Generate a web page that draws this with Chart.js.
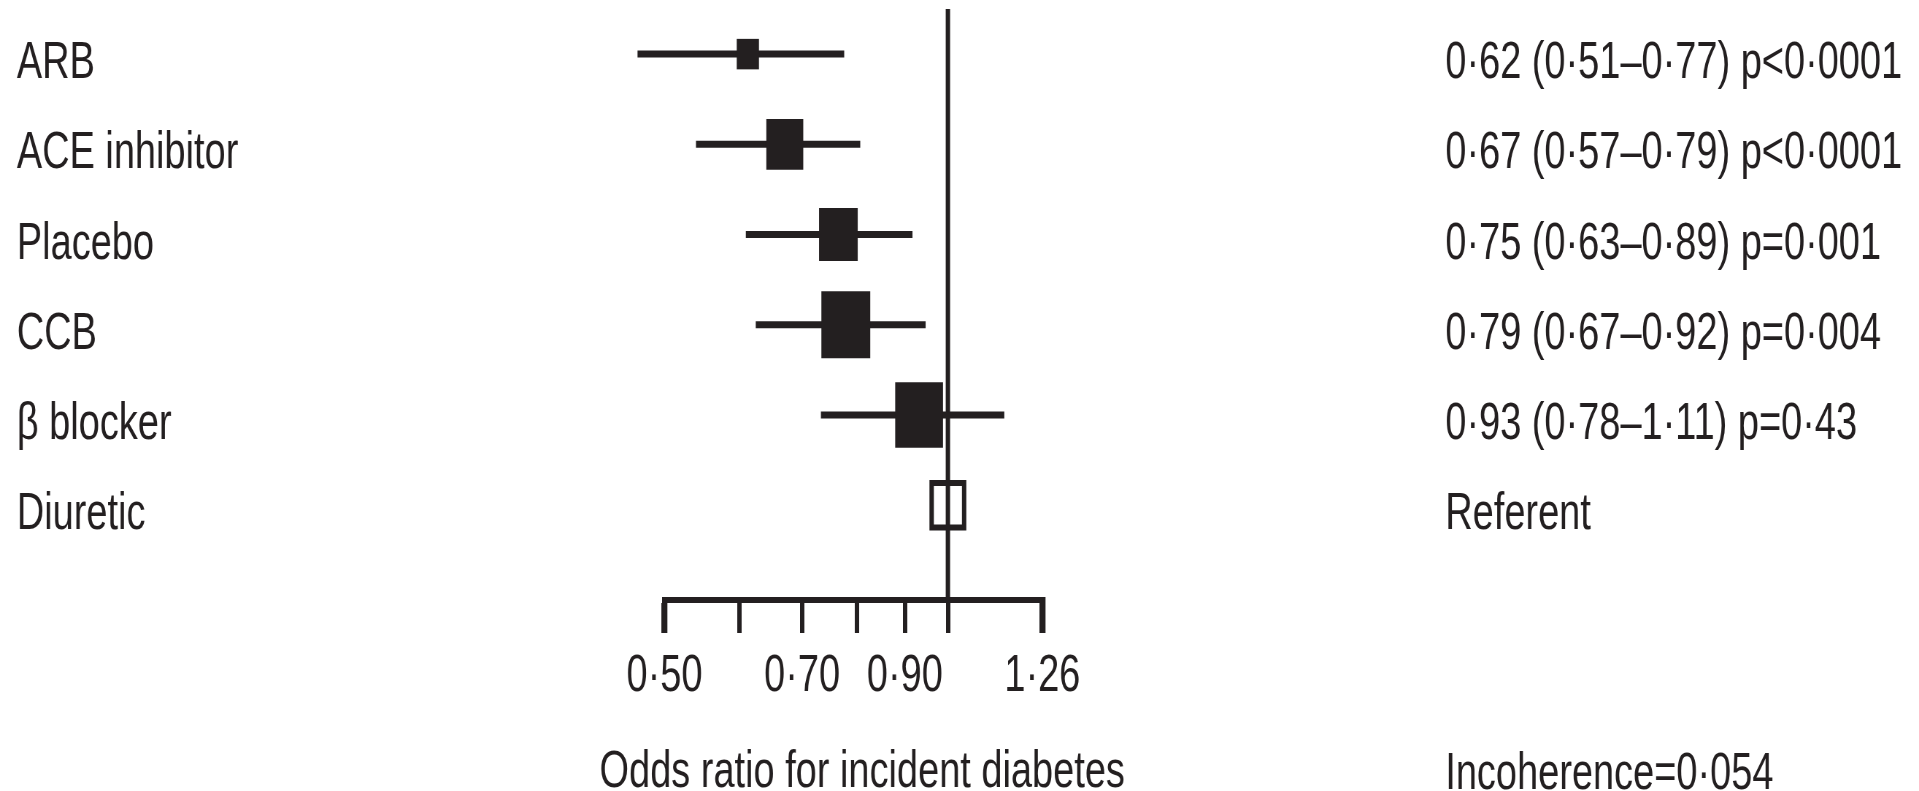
<!DOCTYPE html>
<html>
<head>
<meta charset="utf-8">
<title>Odds ratio for incident diabetes</title>
<script src="https://cdn.jsdelivr.net/npm/chart.js@4.4.1/dist/chart.umd.min.js"></script>
<style>
  html, body { margin: 0; padding: 0; background: #fff; overflow: hidden; }
  /* the original figure is horizontally squeezed, so the chart is drawn wide and scaled down */
  #wrap { width: 2629px; height: 791px; transform: scaleX(0.72994); transform-origin: 0 0; }
</style>
</head>
<body>
<div id="wrap"><canvas id="forest" width="2629" height="791"></canvas></div>
<script>
const treatments = ['ARB', 'ACE inhibitor', 'Placebo', 'CCB', 'β blocker', 'Diuretic'];
const oddsRatio = [0.613, 0.671, 0.765, 0.779, 0.932, 1.0];
const ciLower = [0.468, 0.540, 0.610, 0.625, 0.733, null];
const ciUpper = [0.776, 0.807, 0.917, 0.947, 1.148, null];
const resultText = [
  '0·62 (0·51–0·77) p<0·0001',
  '0·67 (0·57–0·79) p<0·0001',
  '0·75 (0·63–0·89) p=0·001',
  '0·79 (0·67–0·92) p=0·004',
  '0·93 (0·78–1·11) p=0·43',
  'Referent'
];
const xTicks = [0.50, 0.60, 0.70, 0.80, 0.90, 1.00, 1.26];
const xTickLabels = ['0·50', '', '0·70', '', '0·90', '', '1·26'];
const referenceOR = 1;
const xTitle = 'Odds ratio for incident diabetes';
const incoherenceText = 'Incoherence=0·054';

// marker box side in px (study weight), style only
const boxSide = [30.5, 50.6, 53, 67, 65.5, 44.5];

const ink = '#231f20';
const fontFamily = '"Liberation Sans", Arial, sans-serif';
const fontSize = 52;
Chart.defaults.font.family = fontFamily;
Chart.defaults.font.size = fontSize;
Chart.defaults.color = ink;

const isReferent = i => ciLower[i] === null;

const whiskers = treatments
  .map((t, i) => isReferent(i) ? null : {
    label: t + ' CI',
    data: [{ x: ciLower[i], y: i }, { x: ciUpper[i], y: i }],
    showLine: true,
    borderColor: ink,
    borderWidth: 7,
    pointRadius: 0,
    clip: false
  })
  .filter(Boolean);

// row labels on the left, estimates on the right, axis title and footnote
const textColumns = {
  id: 'textColumns',
  afterDraw(chart) {
    const ctx = chart.ctx;
    const ys = chart.scales.y;
    const xs = chart.scales.x;
    const area = chart.chartArea;
    const leftX = 23;
    const rightX = area.right + 552;
    ctx.save();
    ctx.font = fontSize + 'px ' + fontFamily;
    ctx.fillStyle = ink;
    ctx.textBaseline = 'alphabetic';
    ctx.textAlign = 'left';
    treatments.forEach((t, i) => {
      const y = ys.getPixelForValue(i) + 24;
      ctx.fillText(t, leftX, y);
      ctx.fillText(resultText[i], rightX, y);
    });
    ctx.fillText(incoherenceText, rightX, area.bottom + 189);
    ctx.textAlign = 'center';
    ctx.fillText(xTitle, (xs.left + xs.right) / 2 + 12, area.bottom + 187);
    ctx.restore();
  }
};

new Chart(document.getElementById('forest'), {
  type: 'scatter',
  data: {
    datasets: [
      {
        label: 'Odds ratio',
        data: treatments.map((t, i) => ({ x: oddsRatio[i], y: i })),
        pointStyle: 'rect',
        pointRadius: c => boxSide[c.dataIndex] / Math.SQRT2,
        pointBackgroundColor: c => isReferent(c.dataIndex) ? 'rgba(0,0,0,0)' : ink,
        pointBorderColor: ink,
        pointBorderWidth: c => isReferent(c.dataIndex) ? 6 : 0,
        clip: false
      },
      ...whiskers,
      {
        label: 'No effect',
        data: [{ x: referenceOR, y: -0.5 }, { x: referenceOR, y: 6.05 }],
        showLine: true,
        borderColor: ink,
        borderWidth: 6,
        pointRadius: 0,
        clip: false
      }
    ]
  },
  options: {
    responsive: false,
    animation: false,
    events: [],
    layout: { autoPadding: false, padding: { left: 910.4, top: 9, right: 1201, bottom: 0 } },
    plugins: { legend: { display: false }, tooltip: { enabled: false } },
    scales: {
      x: {
        type: 'logarithmic',
        position: 'bottom',
        min: 0.5,
        max: 1.26,
        afterBuildTicks: s => { s.ticks = xTicks.map(v => ({ value: v })); },
        afterFit: s => { s.height = 191; s.paddingLeft = 0; s.paddingRight = 0; },
        ticks: {
          callback: (v, i) => xTickLabels[i],
          autoSkip: false,
          maxRotation: 0,
          padding: 12,
          color: ink
        },
        grid: {
          drawOnChartArea: false,
          drawTicks: true,
          tickLength: 33,
          color: ink,
          lineWidth: c => (c.index === 0 || c.index === xTicks.length - 1) ? 8.3 : 6,
          tickWidth: c => (c.index === 0 || c.index === xTicks.length - 1) ? 8.3 : 6
        },
        border: { display: true, width: 6, color: ink },
        title: { display: false }
      },
      y: {
        type: 'linear',
        display: false,
        reverse: true,
        min: -0.5,
        max: 6.05
      }
    }
  },
  plugins: [textColumns]
});
</script>
</body>
</html>
